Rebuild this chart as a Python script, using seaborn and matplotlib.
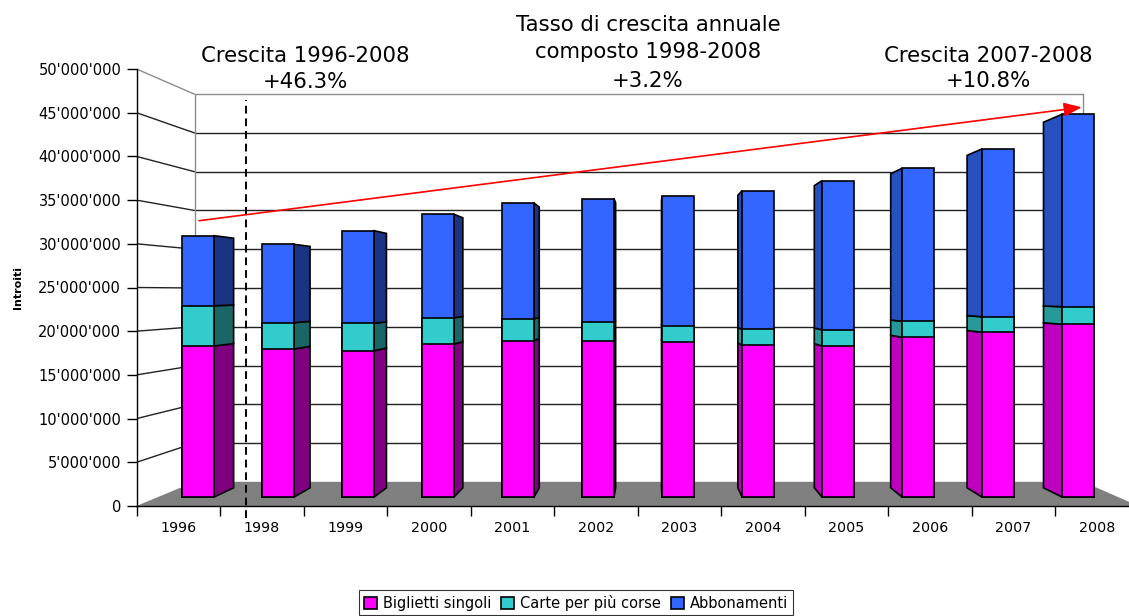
import numpy as np
import matplotlib
matplotlib.use("Agg")
import matplotlib.pyplot as plt
from matplotlib.patches import Patch
from matplotlib.ticker import FuncFormatter
import seaborn as sns

# data (CHF)
years = ["1996", "1998", "1999", "2000", "2001", "2002", "2003", "2004", "2005", "2006", "2007", "2008"]
biglietti = [18030000, 17680000, 17470000, 18270000, 18670000, 18630000,
             18550000, 18120000, 18030000, 19070000, 19670000, 20630000]
carte = [4820000, 3140000, 3280000, 3150000, 2620000, 2240000,
         1910000, 1910000, 1950000, 1910000, 1860000, 2100000]
abbonamenti = [8360000, 9360000, 11060000, 12340000, 13820000, 14760000,
               15460000, 16550000, 17800000, 18280000, 20040000, 22980000]

series = ["Biglietti singoli", "Carte per più corse", "Abbonamenti"]
front_colors = ["#FF00FF", "#33CCCC", "#3366FF"]
right_side_colors = ["#7F007F", "#1A6666", "#1B3380"]
left_side_colors = ["#BF00BF", "#269999", "#2650BF"]

titles_left = ["Crescita 1996-2008", "+46.3%"]
titles_mid = ["Tasso di crescita annuale", "composto 1998-2008", "+3.2%"]
titles_right = ["Crescita 2007-2008", "+10.8%"]

# fake 3d: simple perspective towards a vanishing point (data coords)
VPX, VPY = 5.65, 24.5e6
S_FRONT, S_BACK, S_WALL = 0.958, 0.915, 0.887
HALF = 0.2


def proj(x, y, s):
    return VPX + (x - VPX) * s, VPY + (y - VPY) * s


sns.set_style("white")
plt.rcParams["font.family"] = ["DejaVu Sans"]
plt.rcParams["text.color"] = "black"
plt.rcParams["xtick.color"] = "black"
plt.rcParams["ytick.color"] = "black"
plt.rcParams["axes.labelcolor"] = "black"

W, H = 1129, 616
fig = plt.figure(figsize=(W / 100, H / 100), dpi=100)
ax = fig.add_axes([136.5 / W, 1 - 506 / H, 1002 / W, 437 / H])

n = len(years)
x0, x1 = -0.5, n - 0.5
ymax = 50e6
ticks = np.arange(0, ymax + 1, 5e6)

# walls and gridlines
for v in ticks[1:]:
    col = "#8c8c8c" if v == ymax else "#222222"
    bx0, by = proj(x0, v, S_WALL)
    bx1, _ = proj(x1, v, S_WALL)
    ax.plot([x0, bx0], [v, by], color=col, lw=1.0, zorder=1)
    ax.plot([bx0, bx1], [by, by], color=col, lw=1.0, zorder=1)
for xe in (x0, x1):
    bx, b0 = proj(xe, 0, S_WALL)
    _, b1 = proj(xe, ymax, S_WALL)
    ax.plot([bx, bx], [b0, b1], color="#8c8c8c", lw=1.0, zorder=1)

# floor
fl = [proj(x0, 0, 1), proj(x1, 0, 1), proj(x1, 0, S_WALL), proj(x0, 0, S_WALL)]
ax.fill([p[0] for p in fl], [p[1] for p in fl], color="#808080", lw=0, zorder=2)

# dashed separator
ax.plot([0.81, 0.81], [-1.4e6, 46.4e6], color="black", lw=1.4,
        dashes=(4, 2.5), clip_on=False, zorder=3)

# stacked bars
stack = np.array([biglietti, carte, abbonamenti], dtype=float)
cum = np.cumsum(stack, axis=0)
bottoms = np.vstack([np.zeros(n), cum[:-1]])

for i in range(n):
    if i + HALF < VPX:
        xe, cols = i + HALF, right_side_colors
    elif i - HALF > VPX:
        xe, cols = i - HALF, left_side_colors
    else:
        continue
    for k in range(3):
        pts = [proj(xe, bottoms[k, i], S_FRONT), proj(xe, cum[k, i], S_FRONT),
               proj(xe, cum[k, i], S_BACK), proj(xe, bottoms[k, i], S_BACK)]
        ax.fill([p[0] for p in pts], [p[1] for p in pts], facecolor=cols[k],
                edgecolor="black", lw=1.2, zorder=4)

xs = VPX + (np.arange(n) - VPX) * S_FRONT
base = VPY + (0 - VPY) * S_FRONT
for k in [2, 1, 0]:
    tops = VPY + (cum[k] - VPY) * S_FRONT
    sns.barplot(x=xs, y=tops - base, bottom=base, native_scale=True,
                width=2 * HALF, color=front_colors[k], saturation=1,
                edgecolor="black", linewidth=1.2, errorbar=None, ax=ax, zorder=5)

# trend arrow
ax.annotate("", xy=(10.82, 45.62e6), xytext=(0.25, 32.64e6),
            arrowprops=dict(arrowstyle="-|>,head_length=0.9,head_width=0.35",
                            color="red", lw=1.2, mutation_scale=12,
                            shrinkA=0, shrinkB=0), zorder=6)

# axes
ax.set_xlim(x0, x1)
ax.set_ylim(0, ymax)
ax.set_xlabel("")
ax.set_ylabel("")
for s in ["top", "right"]:
    ax.spines[s].set_visible(False)
for s in ["left", "bottom"]:
    ax.spines[s].set_color("black")
    ax.spines[s].set_linewidth(1.0)

ax.set_yticks(ticks)
ax.yaxis.set_major_formatter(FuncFormatter(lambda v, p: f"{int(v):,}".replace(",", "'")))
ax.tick_params(axis="y", direction="out", length=7, width=1, color="black",
               labelsize=10.5, pad=4, left=True)
ax.set_xticks(np.arange(x0, x1 + 0.01, 1))
ax.set_xticklabels([])
ax.set_xticks(np.arange(n), minor=True)
ax.set_xticklabels(years, minor=True)
ax.tick_params(axis="x", which="major", direction="out", length=7, width=1,
               color="black", bottom=True)
ax.tick_params(axis="x", which="minor", length=0, labelsize=10.3, pad=11)

fig.text(18 / W, 1 - 288 / H, "Introiti", rotation=90, ha="center", va="center",
         fontsize=8, fontweight="bold")

for txt, yb in zip(titles_left, [62, 88]):
    fig.text(305 / W, 1 - yb / H, txt, ha="center", va="baseline", fontsize=15.3)
for txt, yb in zip(titles_mid, [31, 58, 87]):
    fig.text(648 / W, 1 - yb / H, txt, ha="center", va="baseline", fontsize=15.3)
for txt, yb in zip(titles_right, [62, 87]):
    fig.text(988 / W, 1 - yb / H, txt, ha="center", va="baseline", fontsize=15.3)

handles = [Patch(facecolor=c, edgecolor="black", lw=1.2, label=s)
           for c, s in zip(front_colors, series)]
leg = fig.legend(handles=handles, loc="lower center", bbox_to_anchor=(576 / W, 1 / H),
                 bbox_transform=fig.transFigure, ncol=3, frameon=True, fancybox=False,
                 edgecolor="black", fontsize=10.5, handlelength=0.9, handleheight=0.9,
                 handletextpad=0.4, columnspacing=0.7, borderpad=0.3, borderaxespad=0)
leg.get_frame().set_linewidth(0.8)

fig.savefig("out.png", dpi=100)
